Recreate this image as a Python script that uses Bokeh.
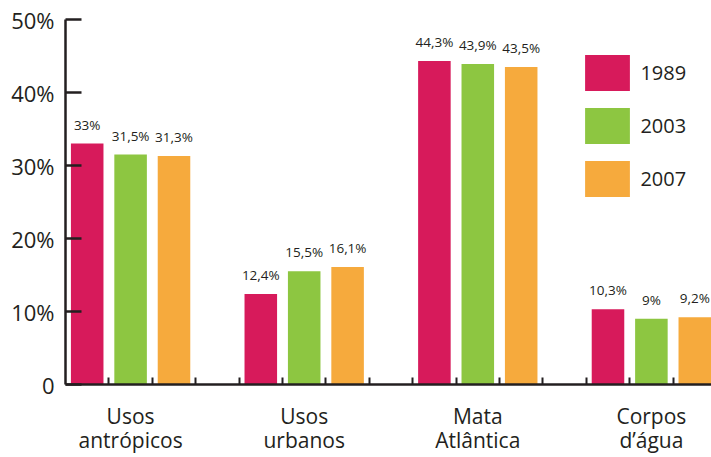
from bokeh.plotting import figure
from bokeh.models import Range1d, FixedTicker, Legend, LegendItem
from bokeh.core.properties import value
from bokeh.embed import file_html
from bokeh.resources import INLINE

categories = ["Usos\nantrópicos", "Usos\nurbanos", "Mata\nAtlântica", "Corpos\nd\u2019água"]
years = ["1989", "2003", "2007"]
v1989 = [33.0, 12.4, 44.3, 10.3]
v2003 = [31.5, 15.5, 43.9, 9.0]
v2007 = [31.3, 16.1, 43.5, 9.2]
labels1989 = ["33%", "12,4%", "44,3%", "10,3%"]
labels2003 = ["31,5%", "15,5%", "43,9%", "9%"]
labels2007 = ["31,3%", "16,1%", "43,5%", "9,2%"]
y_ticks = [0, 10, 20, 30, 40, 50]
y_tick_labels = ["0", "10%", "20%", "30%", "40%", "50%"]
colors = ["#D71A5B", "#8DC641", "#F6AA3D"]

FONT = "Open Sans"
TXT = "#231F20"
SLOTS = 4  # 3 bars + 1 gap per group

p = figure(width=711, height=457, output_backend="svg", toolbar_location=None,
           x_range=Range1d(0, 14.885), y_range=Range1d(0, 50),
           min_border_left=65, min_border_right=0, min_border_top=19,
           min_border_bottom=71)
p.outline_line_color = None
p.grid.visible = False
p.background_fill_color = "white"
p.border_fill_color = "white"

series = [v1989, v2003, v2007]
series_labels = [labels1989, labels2003, labels2007]
items = []
for j in range(3):
    xs = [SLOTS * g + j + 0.5 for g in range(len(categories))]
    r = p.vbar(x=xs, top=series[j], width=0.75, fill_color=colors[j], line_color=None)
    items.append(LegendItem(label=years[j], renderers=[r]))
    p.text(x=xs, y=series[j], text=series_labels[j], text_align="center",
           text_baseline="alphabetic", y_offset=-19,
           text_font=value(FONT), text_font_size="13.5px", text_color=TXT)

# y axis
ya = p.yaxis[0]
ya.ticker = FixedTicker(ticks=y_ticks, minor_ticks=[])
ya.major_label_overrides = {t: l for t, l in zip(y_ticks, y_tick_labels)}
ya.major_tick_in = 16
ya.major_tick_out = 0
ya.minor_tick_in = 0
ya.minor_tick_out = 0
ya.axis_line_width = 2.5
ya.major_tick_line_width = 2.5
ya.axis_line_color = TXT
ya.major_tick_line_color = TXT
ya.major_label_standoff = 11
ya.major_label_text_font = FONT
ya.major_label_text_font_size = "22px"
ya.major_label_text_color = TXT

# x axis: category labels at group centres, small ticks at slot boundaries
group_centers = [SLOTS * g + 1.5 for g in range(len(categories))]
boundaries = [float(k) for k in range(1, SLOTS * len(categories))]
xa = p.xaxis[0]
xa.ticker = FixedTicker(ticks=group_centers, minor_ticks=boundaries)
xa.major_label_overrides = {c: l for c, l in zip(group_centers, categories)}
xa.major_tick_in = 0
xa.major_tick_out = 0
xa.minor_tick_in = 7
xa.minor_tick_out = 0
xa.minor_tick_line_width = 2
xa.minor_tick_line_color = TXT
xa.axis_line_width = 2.5
xa.axis_line_color = TXT
xa.major_label_standoff = 17
xa.major_label_text_font = FONT
xa.major_label_text_font_size = "21px"
xa.major_label_text_color = TXT
xa.major_label_text_line_height = 0.875

legend = Legend(items=items, location=(514.4, 183.5), orientation="vertical",
                glyph_width=56, glyph_height=45, spacing=8, padding=0, margin=0,
                label_standoff=5, label_text_font=FONT, label_text_font_size="20px",
                label_text_color=TXT, border_line_color=None,
                background_fill_alpha=0)
p.add_layout(legend, "center")

open("out.html", "w").write(file_html(p, INLINE))
